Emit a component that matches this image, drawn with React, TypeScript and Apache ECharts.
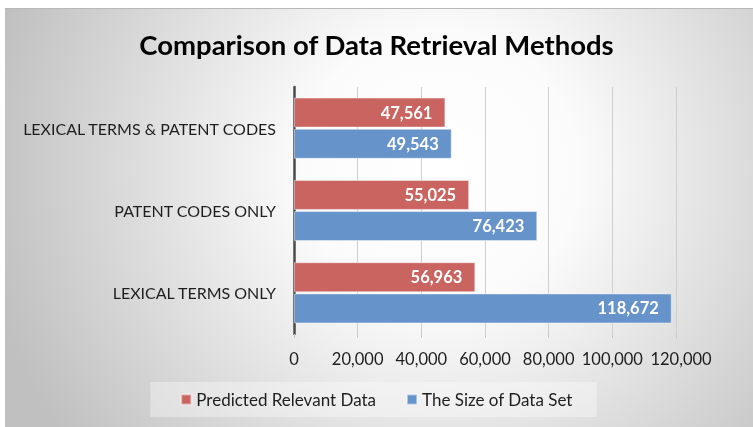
import React, { useEffect, useRef } from "react";
import * as echarts from "echarts";

const categories = ["LEXICAL TERMS ONLY", "PATENT CODES ONLY", "LEXICAL TERMS & PATENT CODES"];
const predictedRelevant = [56963, 55025, 47561];
const dataSetSize = [118672, 76423, 49543];
const seriesNames = ["Predicted Relevant Data", "The Size of Data Set"];
const titleText = "Comparison of Data Retrieval Methods";
const axisMax = 120000;
const axisStep = 20000;

const FONT = "Lato";

export default function App() {
  const ref = useRef<HTMLDivElement>(null);
  useEffect(() => {
    if (!ref.current) return;
    const chart = echarts.init(ref.current, undefined, { renderer: "svg" });
    const fmt = (v: number) => Number(v).toLocaleString("en-US");
    chart.setOption({
      animation: false,
      graphic: [
        {
          type: "rect",
          z: -100,
          silent: true,
          shape: { x: 5, y: 8, width: 748, height: 419 },
          style: {
            fill: new echarts.graphic.RadialGradient(440, 170, 460, [
              { offset: 0, color: "#ffffff" },
              { offset: 0.3, color: "#fbfbfb" },
              { offset: 1, color: "#c0c0c0" },
            ], true),
          },
        },
        {
          type: "line",
          z: -99,
          silent: true,
          shape: { x1: 5, y1: 8.5, x2: 753, y2: 8.5 },
          style: { stroke: "#b8b8b8", lineWidth: 1 },
        },
      ],
      title: {
        text: titleText,
        left: "center",
        top: 25,
        textStyle: { fontFamily: FONT, fontWeight: "bold", fontSize: 27.5, color: "#000000" },
      },
      legend: {
        data: seriesNames,
        left: "center",
        top: 382,
        itemWidth: 10,
        itemHeight: 10,
        itemGap: 30,
        icon: "rect",
        padding: [9, 24, 9, 30],
        backgroundColor: "rgba(255,255,255,0.35)",
        textStyle: { fontFamily: FONT, fontSize: 17, color: "#1e1e1e" },
      },
      grid: { left: 294, right: 77, top: 87, bottom: 93, containLabel: false },
      xAxis: {
        type: "value",
        min: 0,
        max: axisMax,
        interval: axisStep,
        axisLine: { show: false },
        axisTick: { show: true, length: 4, lineStyle: { color: "#c8c8c8" } },
        splitLine: { show: true, lineStyle: { color: "#cfcfcf", width: 1 } },
        axisLabel: {
          fontFamily: FONT,
          fontSize: 16.5,
          color: "#1e1e1e",
          margin: 16,
          formatter: (v: number) => (v === axisMax ? "{last|" + fmt(v) + "}" : fmt(v)),
          rich: {
            last: { fontFamily: FONT, fontSize: 16.5, color: "#1e1e1e", padding: [0, 0, 0, 10] },
          },
        },
      },
      yAxis: {
        type: "category",
        data: categories,
        axisLine: { show: true, lineStyle: { color: "#4a4a4a", width: 2.5 } },
        axisTick: { show: false },
        axisLabel: { fontFamily: FONT, fontSize: 16, color: "#1e1e1e", margin: 18 },
      },
      series: [
        {
          name: seriesNames[0],
          type: "bar",
          data: predictedRelevant,
          barWidth: 30,
          barGap: "4%",
          itemStyle: { color: "#C96461", borderColor: "rgba(255,255,255,0.45)", borderWidth: 1 },
          label: {
            show: true,
            position: "insideRight",
            distance: 13,
            fontFamily: FONT,
            fontWeight: "bold",
            fontSize: 16.5,
            color: "#ffffff",
            formatter: (p: any) => fmt(p.value),
          },
        },
        {
          name: seriesNames[1],
          type: "bar",
          data: dataSetSize,
          barWidth: 30,
          barGap: "4%",
          itemStyle: { color: "#6693C9", borderColor: "rgba(255,255,255,0.45)", borderWidth: 1 },
          label: {
            show: true,
            position: "insideRight",
            distance: 13,
            fontFamily: FONT,
            fontWeight: "bold",
            fontSize: 16.5,
            color: "#ffffff",
            formatter: (p: any) => fmt(p.value),
          },
        },
      ],
    });
    return () => chart.dispose();
  }, []);
  return (
    <div
      ref={ref}
      style={{ position: "fixed", left: 0, top: 0, width: 753, height: 427 }}
    />
  );
}
